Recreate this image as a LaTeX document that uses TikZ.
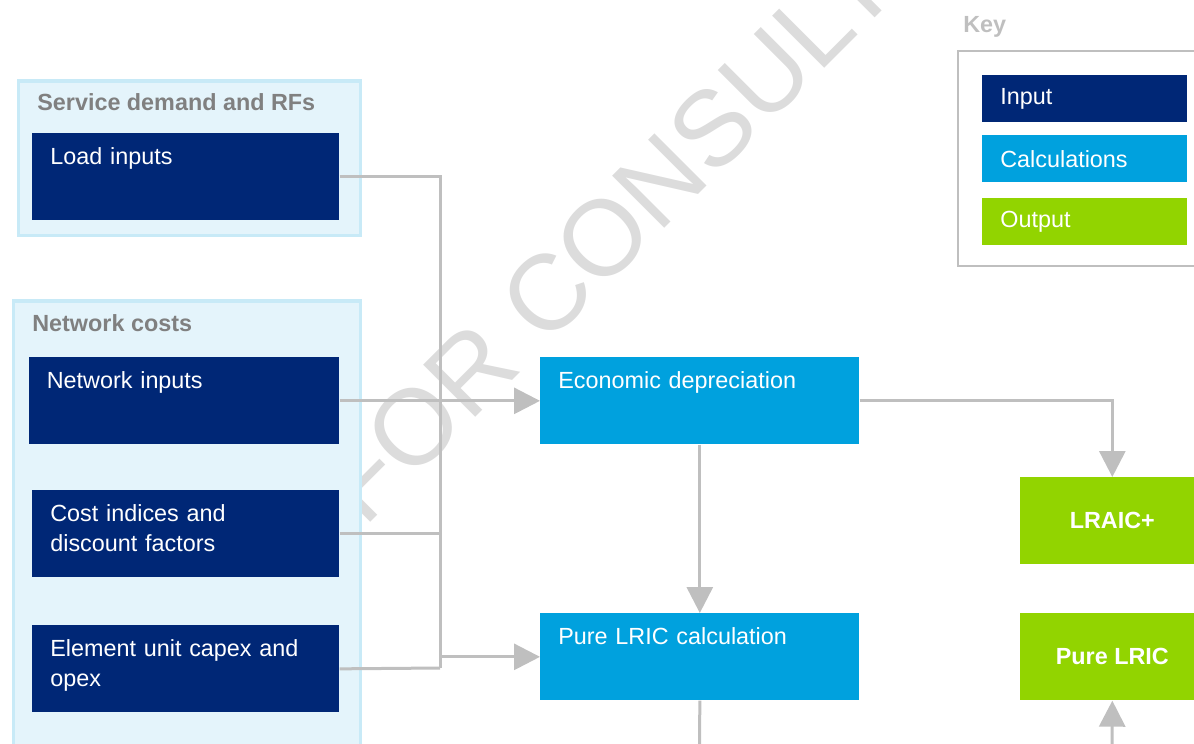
\documentclass[tikz,border=0pt]{standalone}
\usepackage{fontspec}
\setmainfont{Liberation Sans}
\usetikzlibrary{arrows.meta}
\definecolor{inputblue}{RGB}{0,39,118}
\definecolor{calcblue}{RGB}{0,161,222}
\definecolor{outgreen}{RGB}{146,212,0}
\definecolor{groupfill}{RGB}{228,244,251}
\definecolor{groupline}{RGB}{200,234,247}
\definecolor{linkgrey}{RGB}{191,191,191}
\definecolor{titlegrey}{RGB}{128,128,128}
\definecolor{markgrey}{RGB}{220,220,220}
\newcommand{\boxfont}{\fontsize{13.3}{17}\selectfont}

\begin{document}
\begin{tikzpicture}[x=0.02cm, y=-0.02cm,
    flowbox/.style={anchor=north west, minimum height=1.74cm, inner xsep=0.36cm, inner ysep=0pt,
      text width=5.42cm, align=left, text height=0.63cm, text depth=1.11cm, text=white, font=\boxfont},
    inbox/.style={flowbox, fill=inputblue},
    calcbox/.style={flowbox, fill=calcblue, text width=5.66cm},
    outbox/.style={anchor=north west, minimum width=3.68cm, minimum height=1.74cm,
      fill=outgreen, text=white, font=\boxfont\bfseries},
    keybox/.style={anchor=north west, minimum height=0.94cm, inner xsep=0.36cm,
      text width=3.38cm, align=left, text=white, font=\boxfont},
    groupbox/.style={anchor=north west, fill=groupfill, draw=groupline, line width=0.07cm},
    grouptitle/.style={anchor=base west, inner sep=0pt, font=\boxfont\bfseries},
    linkline/.style={draw=linkgrey, line width=0.06cm},
    linkarrow/.style={linkline, -{Triangle[length=0.52cm, width=0.52cm]}}]
    \useasboundingbox (0,0) rectangle (1194,744);
    \clip (0,0) rectangle (1194,744);
    % watermark
    \node[anchor=base west, rotate=45, inner sep=0pt, text=markgrey,
      font=\fontsize{61}{61}\selectfont] (watermark) at (364,529) {FOR CONSULTATION};
    % groups
    \node[groupbox, minimum width=6.84cm, minimum height=3.1cm] (sdgroup) at (17,79) {};
    \node[grouptitle, text=titlegrey] (sdtitle) at (37,110) {Service demand and RFs};
    \node[groupbox, minimum width=6.94cm, minimum height=9.6cm] (ncgroup) at (12,299) {};
    \node[grouptitle, text=titlegrey] (nctitle) at (32,331) {Network costs};
    % inputs
    \node[inbox] (load) at (32,133) {Load inputs};
    \node[inbox, inner xsep=0.35cm, text width=5.5cm] (netin) at (29,357) {Network inputs};
    \node[inbox] (cost) at (32,490) {Cost indices and\\discount factors};
    \node[inbox] (elem) at (32,625) {Element unit capex and\\opex};
    % calculations
    \node[calcbox] (eco) at (540,357) {Economic depreciation};
    \node[calcbox] (lric) at (540,613) {Pure LRIC calculation};
    % outputs
    \node[outbox] (lraic) at (1020,477) {LRAIC+};
    \node[outbox] (plric) at (1020,613) {Pure LRIC};
    % key
    \node[grouptitle, text=linkgrey] (keytitle) at (963,32) {Key};
    \node[anchor=north west, draw=linkgrey, line width=0.04cm, minimum width=5.16cm,
      minimum height=4.3cm] (keyframe) at (957,50) {};
    \node[keybox, fill=inputblue] (keyin) at (982,75) {Input};
    \node[keybox, fill=calcblue] (keycalc) at (982,135) {Calculations};
    \node[keybox, fill=outgreen] (keyout) at (982,198) {Output};
    % connectors
    \coordinate (jbot) at (440,668);
    \coordinate (lricout) at (699.5,760);
    \coordinate (plout) at (1112,760);
    \draw[linkline] (load.east) -| (jbot);
    \draw[linkline] (elem.east) -- (jbot);
    \draw[linkline] (cost.east) -- (cost.east -| jbot);
    \draw[linkarrow] (netin.east) -- (eco.west);
    \draw[linkarrow] (lric.west -| jbot) -- (lric.west);
    \draw[linkarrow] (eco.south) -- (lric.north);
    \draw[linkarrow] (eco.east) -| (lraic.north);
    \draw[linkline] (lric.south) -- (lricout);
    \draw[linkarrow] (plout) -- (plric.south);
\end{tikzpicture}
\end{document}
